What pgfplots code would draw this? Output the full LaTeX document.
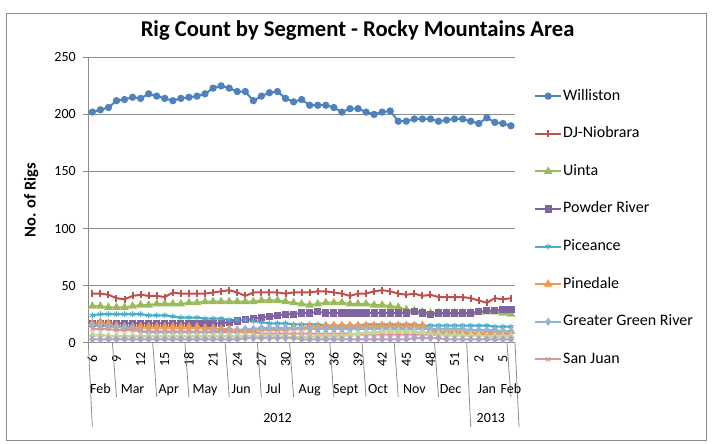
\documentclass[border=0pt]{standalone}
\usepackage{fontspec}
\setmainfont{Carlito}
\usepackage{pgfplots}
\usepackage{pgfplotstable}
\pgfplotsset{compat=1.18}
\definecolor{cW}{HTML}{4F81BD}
\definecolor{cDJ}{HTML}{C0504D}
\definecolor{cU}{HTML}{9BBB59}
\definecolor{cPR}{HTML}{8064A2}
\definecolor{cPc}{HTML}{4BACC6}
\definecolor{cPn}{HTML}{F79646}
\definecolor{cG}{HTML}{95B3D7}
\definecolor{cSJ}{HTML}{D99694}
\definecolor{cO1}{HTML}{C3D69B}
\definecolor{cO2}{HTML}{B3A2C7}
\definecolor{axc}{HTML}{8C8C8C}
\newcommand\fsT{\fontsize{14}{16}\selectfont}
\pgfplotstableread{
x W DJ U PR Pc Pn G SJ O1 O2
0 202 43 32 17 24 17 15 12 7 3
1 204 43 32 17 25 18 15 12 7 3
2 206 42 31 17 25 17 14 12 6 3
3 212 39 31 17 25 15 14 11 6 3
4 213 38 31 17 25 14 14 11 6 3
5 215 41 32 17 25 14 13 11 6 3
6 214 42 33 17 25 14 10 10 6 3
7 218 41 33 17 24 14 9 10 6 3
8 216 41 34 17 24 14 9 10 6 3
9 214 40 34 17 24 14 9 10 6 3
10 212 44 34 17 23 14 9 10 6 3
11 214 43 34 17 22 14 9 10 6 3
12 215 43 35 17 22 14 9 10 6 3
13 216 43 35 17 22 14 9 10 6 3
14 218 43 36 17 21 13 9 9 6 3
15 223 44 36 17 21 13 10 9 6 3
16 225 45 36 17 21 12 10 9 6 3
17 223 46 36 18 20 12 11 9 6 3
18 220 44 36 19 20 11 11 9 6 3
19 220 41 36 20 20 11 12 9 6 4
20 212 44 36 21 19 11 12 9 6 4
21 216 44 37 22 18 12 13 8 6 4
22 219 44 37 23 17 12 13 8 6 4
23 220 44 37 24 17 12 13 8 6 4
24 214 43 36 25 17 12 13 8 5 4
25 211 44 35 25 16 13 13 8 5 4
26 213 44 34 26 16 13 13 8 5 3
27 208 44 33 26 16 14 12 8 5 3
28 208 45 34 27 16 14 12 8 6 3
29 208 45 35 26 15 15 12 8 6 3
30 206 44 35 26 15 15 12 8 6 3
31 202 43 35 26 15 15 12 8 6 3
32 205 41 34 26 15 15 12 8 7 3
33 205 43 34 26 15 15 12 7 8 3
34 202 43 34 26 16 15 12 7 9 3
35 200 45 33 26 16 15 12 7 9 3
36 202 46 33 26 16 15 12 7 10 3
37 203 45 32 26 16 15 12 7 10 3
38 194 43 31 26 16 15 12 7 10 3
39 194 42 29 26 16 15 12 7 10 3
40 196 43 28 27 16 15 12 7 10 4
41 196 41 27 26 15 15 12 7 9 4
42 196 42 26 25 15 11 12 7 8 4
43 194 40 26 26 15 10 12 7 8 4
44 195 40 26 26 15 10 12 7 7 3
45 196 40 26 26 15 10 12 7 7 3
46 196 40 26 26 15 10 12 7 7 3
47 194 39 26 26 15 9 11 7 7 3
48 192 37 27 27 15 9 11 7 7 3
49 197 35 27 28 15 9 11 7 6 3
50 193 39 27 28 14 10 11 7 6 3
51 192 38 26 29 14 10 10 7 6 3
52 190 39 25 29 14 10 10 7 6 3
}\data
\begin{document}
\begin{tikzpicture}[x=1pt,y=1pt]
\useasboundingbox (0,0) rectangle (715,444);
\draw[axc, line width=0.8pt] (6,4) rectangle (706,431);
\begin{axis}[
  at={(88.3pt,101.3pt)}, anchor=south west,
  width=426.7pt, height=285.4pt, scale only axis,
  xmin=-0.5, xmax=52.5, ymin=0, ymax=250,
  axis x line*=bottom, axis y line*=left,
  axis line style={axc, line width=0.8pt},
  ytick={0,50,...,250},
  ymajorgrids, major grid style={axc, line width=0.8pt},
  y tick style={axc, line width=0.8pt}, tick align=outside, major tick length=5pt,
  xtick={0,3,...,51},
  xticklabels={6,9,12,15,18,21,24,27,30,33,36,39,42,45,48,51,2,5},
  x tick style={draw=none},
  xticklabel style={yshift=-11.6pt, rotate=90, anchor=center, font=\fsT},
  yticklabel style={font=\fsT, xshift=-4pt},
  /pgf/number format/assume math mode=true,
  ylabel={\bfseries No. of Rigs},
  ylabel style={at={(axis description cs:-0.134,0.5)}, anchor=center, font=\fontsize{16.5}{18}\selectfont},
  title={\bfseries Rig Count by Segment - Rocky Mountains Area},
  title style={at={(axis description cs:0.631,1.052)}, anchor=base, font=\fontsize{22.6}{24}\selectfont},
  clip=false,
  every axis plot/.append style={line width=2pt, mark options={solid}},
  legend image code/.code={\draw[mark repeat=2,mark phase=2,#1] plot coordinates {(0pt,0pt) (13pt,0pt) (26pt,0pt)};},
  legend style={at={(axis description cs:1.0445,0.896)}, anchor=north west, draw=none, fill=none, inner sep=0pt,
    row sep=19.6pt, font=\fontsize{16}{16}\selectfont,
    nodes={inner sep=1pt, text height=12pt, text depth=4pt, anchor=west}},
  legend cell align=left,
]
\addplot[cW, mark=*, mark size=2.6pt] table[x=x,y=W]{\data};
\addlegendentry{Williston}
\addplot[cDJ, mark=|, mark size=3.5pt] table[x=x,y=DJ]{\data};
\addlegendentry{DJ-Niobrara}
\addplot[cU, mark=triangle*, mark size=3pt] table[x=x,y=U]{\data};
\addlegendentry{Uinta}
\addplot[cPR, mark=square*, mark size=2.6pt] table[x=x,y=PR]{\data};
\addlegendentry{Powder River}
\addplot[cPc, mark=asterisk, mark size=3pt, mark options={line width=1pt}] table[x=x,y=Pc]{\data};
\addlegendentry{Piceance}
\addplot[cPn, mark=triangle*, mark size=3pt] table[x=x,y=Pn]{\data};
\addlegendentry{Pinedale}
\addplot[cG, mark=diamond*, mark size=2.6pt] table[x=x,y=G]{\data};
\addlegendentry{Greater Green River}
\addplot[cSJ, mark=x, mark size=3pt, mark options={line width=1pt}] table[x=x,y=SJ]{\data};
\addlegendentry{San Juan}
\addplot[cO1, mark=triangle*, mark size=2.5pt, forget plot] table[x=x,y=O1]{\data};
\addplot[cO2, mark=diamond*, mark size=2.5pt, forget plot] table[x=x,y=O2]{\data};
% category group separators
\pgfplotsinvokeforeach{2.5,7.5,11.5,16.5,20.5,24.5,29.5,33.5,37.5,42.5,51.5}{
  \draw[axc, line width=0.8pt] (axis cs:#1,0) -- ++(0,-54.3pt);
}
\pgfplotsinvokeforeach{-0.5,46.5,52.5}{
  \draw[axc, line width=0.8pt] (axis cs:#1,0) -- ++(0,-84.3pt);
}
% month labels
\pgfplotsforeachungrouped \xx/\mm in {1/Feb,5/Mar,9.5/Apr,14/May,18.5/Jun,22.5/Jul,27/Aug,31.5/Sept,35.5/Oct,40/Nov,44.5/Dec,49/Jan,52/Feb}{
  \edef\temp{\noexpand\node[anchor=base, font=\noexpand\fsT, inner sep=0pt] at (axis cs:\xx,0) [yshift=-51.3pt] {\mm};}
  \temp
}
\node[anchor=base, font=\fsT, inner sep=0pt] at (axis cs:23,0) [yshift=-80pt] {2012};
\node[anchor=base, font=\fsT, inner sep=0pt] at (axis cs:49.5,0) [yshift=-80pt] {2013};
\end{axis}
\end{tikzpicture}
\end{document}
